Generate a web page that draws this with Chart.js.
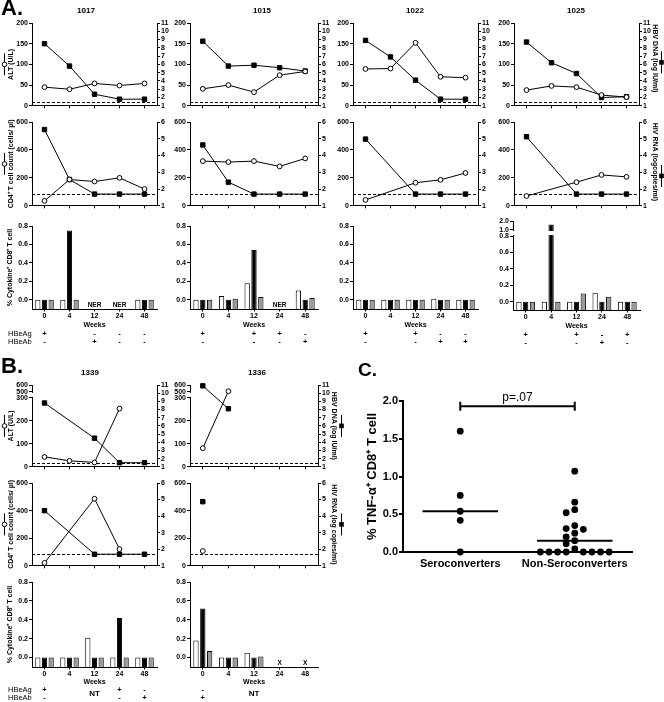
<!DOCTYPE html>
<html>
<head>
<meta charset="utf-8">
<title>HBV / HIV co-infection panels</title>
<script src="https://cdn.jsdelivr.net/npm/chart.js@4.4.1/dist/chart.umd.min.js"></script>
<style>
  html, body { margin: 0; padding: 0; background: #fff; }
  #page { position: relative; width: 664px; height: 702px; overflow: hidden; font-family: "Liberation Sans", Arial, sans-serif; }
  #page canvas { position: absolute; }
  .txt { position: absolute; white-space: nowrap; line-height: 1; color: #000; transform: translateY(-50%); }
  .mid { transform: translate(-50%, -50%); }
</style>
</head>
<body>
<div id="page"></div>
<script>
// ---- data ----
const weeks = ['0', '4', '12', '24', '48'];

// ALT (U/L, open circles) and HBV DNA (log IU/ml, filled squares)
const alt1017 = [45, 40, 54, 49, 54];
const hbv1017 = [8.5, 5.8, 2.4, 1.8, 1.8];
const alt1015 = [41, 50, 33, 74, 83];
const hbv1015 = [8.8, 5.8, 5.9, 5.6, 5.2];
const alt1022 = [89, 90, 152, 70, 68];
const hbv1022 = [8.9, 6.9, 4.1, 1.8, 1.8];
const alt1025 = [38, 48, 45, 26, 21];
const hbv1025 = [8.7, 6.2, 4.9, 2.0, 2.1];
const alt1339 = [43, 26, 19, 253, null];
const hbv1339 = [8.8, null, 4.5, 1.5, 1.5];
const alt1336 = [81, 510, null, null, null];
const hbv1336 = [10.9, 8.1, null, null, null];

// CD4+ T cell count (cells/µl, open circles) and HIV RNA (log copies/ml, filled squares)
const cd4_1017 = [35, 188, 174, 200, 120];
const hiv1017 = [5.55, 2.57, 1.7, 1.7, 1.7];
const cd4_1015 = [320, 313, 320, 282, 339];
const hiv1015 = [4.63, 2.41, 1.7, 1.7, 1.7];
const cd4_1022 = [42, null, 165, 186, 235];
const hiv1022 = [4.98, null, 1.7, 1.7, 1.7];
const cd4_1025 = [70, null, 169, 221, 207];
const hiv1025 = [5.12, null, 1.7, 1.7, 1.7];
const cd4_1339 = [21, null, 486, 121, null];
const hiv1339 = [4.33, null, 1.7, 1.7, 1.7];
const cd4_1336 = [107, null, null, null, null];
const hiv1336 = [4.87, null, null, null, null];

// % cytokine+ CD8+ T cells: open bars, TNF-a (black bars), grey bars
const open1017 = [0, 0, null, null, 0];
const tnf1017 = [0, 0.75, null, null, 0];
const grey1017 = [0, 0, null, null, 0];
const open1015 = [0, 0.04, 0.18, null, 0.10];
const tnf1015 = [0, 0, 0.54, null, 0];
const grey1015 = [0, 0.01, 0.03, null, 0.02];
const open1022 = [0, 0, 0, 0.01, 0];
const tnf1022 = [0, 0, 0, 0, 0];
const grey1022 = [0, 0, 0, 0, 0];
const open1025 = [0, 0, 0, 0.11, 0];
const tnf1025 = [0, 1.6, 0, 0, 0];
const grey1025 = [0, 0, 0.1, 0.06, 0];
const open1339 = [0, 0, 0.21, 0, 0];
const tnf1339 = [0, 0, 0, 0.42, 0];
const grey1339 = [0, 0, 0, 0, 0];
const open1336 = [0.18, 0, 0.05, null, null];
const tnf1336 = [0.52, 0, 0, null, null];
const grey1336 = [0.07, 0, 0.01, null, null];

const note1017 = ['', '', 'NER', 'NER', ''];
const note1015 = ['', '', '', 'NER', ''];
const note1336 = ['', '', '', 'X', 'X'];

// HBeAg / HBeAb status per week
const hbeag1017 = ['+', '', '-', '-', '-'];
const hbeab1017 = ['-', '', '+', '-', '-'];
const hbeag1015 = ['+', '', '+', '+', '-'];
const hbeab1015 = ['-', '', '-', '-', '+'];
const hbeag1022 = ['+', '', '+', '-', '-'];
const hbeab1022 = ['-', '', '-', '+', '+'];
const hbeag1025 = ['+', '', '+', '-', '+'];
const hbeab1025 = ['-', '', '-', '+', '-'];
const hbeag1339 = ['+', '', '', '+', '-'];
const hbeab1339 = ['-', '', '', '-', '+'];
const hbeag1336 = ['-', '', '', '', ''];
const hbeab1336 = ['+', '', '', '', ''];
const untested1339 = ['', '', 'NT', '', ''];
const untested1336 = ['', '', 'NT', '', ''];

// panel C: % TNF-a+ CD8+ T cells
const groups = ['Seroconverters', 'Non-Seroconverters'];
const tnfSero = [1.6, 0.75, 0.54, 0.42, 0];
const tnfNonSero = [1.07, 0.66, 0.56, 0.52, 0.35, 0.31, 0.30, 0.25, 0.20, 0.15, 0.11, 0.04, 0, 0, 0, 0, 0, 0, 0, 0];
const medians = [0.54, 0.15];
const pText = 'p=.07';

// tick labels
const altTicks = [0, 50, 100, 150, 200];
const altTicksB = [0, 100, 200, 300, 500, 600];
const hbvTicks = [1, 2, 3, 4, 5, 6, 7, 8, 9, 10, 11];
const cd4Ticks = [0, 200, 400, 600];
const hivTicks = [1, 2, 3, 4, 5, 6];
const cytoTicks = [0, 0.2, 0.4, 0.6, 0.8];
const cytoTicksTall = [0, 0.2, 0.4, 0.6, 0.8, 1.0, 2.0];
const tnfTicks = [0, 0.5, 1.0, 1.5, 2.0];

// ---- setup ----
const FONT = '"Liberation Sans", Arial, sans-serif';
Chart.defaults.font.family = FONT;
Chart.defaults.color = '#000';

// linear scale with piecewise segments (axis breaks)
class BrokenScale extends Chart.LinearScale {
  static id = 'broken';
  getPixelForValue(value) {
    if (value === null || value === undefined) return NaN;
    const vs = this.options.breakValues, fs = this.options.breakFracs;
    let i = 1;
    while (i < vs.length - 1 && value > vs[i]) i++;
    const f = fs[i - 1] + (value - vs[i - 1]) / (vs[i] - vs[i - 1]) * (fs[i] - fs[i - 1]);
    return this.getPixelForDecimal(f);
  }
}
Chart.register(BrokenScale);

const page = document.getElementById('page');

function addText(txt, x, y, font, center) {
  const d = document.createElement('div');
  d.className = center ? 'txt mid' : 'txt';
  d.textContent = txt;
  d.style.left = x + 'px';
  d.style.top = y + 'px';
  d.style.font = font;
  page.appendChild(d);
}

function makeCanvas(area, pad) {
  const c = document.createElement('canvas');
  const w = area.r - area.l + pad.l + pad.r;
  const h = area.b - area.t + pad.t + pad.b;
  c.width = w; c.height = h;
  c.style.width = w + 'px'; c.style.height = h + 'px';
  c.style.left = (area.l - pad.l) + 'px';
  c.style.top = (area.t - pad.t) + 'px';
  page.appendChild(c);
  return c;
}

function xScale(height, showLabels) {
  return {
    type: 'category', offset: true,
    afterFit: sc => { sc.height = height; },
    grid: {offset: false, drawOnChartArea: false, drawTicks: true, tickLength: 2.5, color: '#000', lineWidth: 1},
    border: {display: true, color: '#000', width: 1},
    ticks: {display: showLabels, autoSkip: false, maxRotation: 0, padding: 0, color: '#000', font: {size: 7, weight: 'bold'}}
  };
}

function yScale(position, width, ax) {
  const s = {
    type: ax.brk ? 'broken' : 'linear', position, min: ax.min, max: ax.max,
    afterBuildTicks: sc => { sc.ticks = ax.ticks.map(v => ({value: v})); },
    afterFit: sc => { sc.width = width; },
    grid: {drawOnChartArea: false, drawTicks: true, tickLength: 3, color: '#000', lineWidth: 1},
    border: {display: true, color: '#000', width: 1},
    ticks: {padding: 1, autoSkip: false, color: '#000', font: {size: 7, weight: 'bold'},
            callback: v => ax.digits ? v.toFixed(ax.digits) : String(v)}
  };
  if (ax.brk) { s.breakValues = ax.brk.v; s.breakFracs = ax.brk.f; }
  return s;
}

function axisTitle(ctx, t, a, ox, side) {
  const cy = (a.top + a.bottom) / 2;
  ctx.save();
  ctx.translate(t.x - ox, cy + (t.dy || 0));
  ctx.rotate(side === 'left' ? -Math.PI / 2 : Math.PI / 2);
  ctx.font = t.font || ('bold 7px ' + FONT);
  ctx.fillStyle = '#000';
  ctx.textAlign = 'center';
  ctx.textBaseline = 'middle';
  ctx.fillText(t.text, 0, 0);
  ctx.restore();
  if (!t.symbol) return;
  const sx = t.sx - ox + 0.5, sy = cy + (t.sdy || 0);
  ctx.save();
  ctx.strokeStyle = '#000'; ctx.lineWidth = 1;
  ctx.beginPath(); ctx.moveTo(sx, sy - 11); ctx.lineTo(sx, sy + 11); ctx.stroke();
  if (t.symbol === 'circle') {
    ctx.beginPath(); ctx.arc(sx, sy, 2.3, 0, Math.PI * 2);
    ctx.fillStyle = '#fff'; ctx.fill(); ctx.stroke();
  } else {
    ctx.fillStyle = '#000'; ctx.fillRect(sx - 2.3, sy - 2.3, 4.6, 4.6);
  }
  ctx.restore();
}

// extra drawing: dashed limit line, axis breaks, titles, notes under the bars
function decor(s) {
  const ox = s.area.l - s.pad.l;
  return {
    id: 'decor',
    beforeDatasetsDraw(chart) {
      if (!s.dash) return;
      const {ctx, chartArea: a} = chart;
      const y = Math.round(chart.scales[s.dash.axis].getPixelForValue(s.dash.value)) + 0.5;
      ctx.save();
      ctx.strokeStyle = '#000'; ctx.lineWidth = 1; ctx.setLineDash([3, 2]);
      ctx.beginPath(); ctx.moveTo(a.left, y); ctx.lineTo(a.right, y); ctx.stroke();
      ctx.restore();
    },
    afterDatasetsDraw(chart) {
      if (!s.gap) return;
      const {ctx, chartArea: a} = chart;
      const sc = chart.scales[s.gap.axis];
      const y1 = sc.getPixelForValue(s.gap.hi) + 1, y2 = sc.getPixelForValue(s.gap.lo) - 1;
      const x1 = a.left - 2, x2 = s.gap.full ? a.right + 1 : a.left + 2;
      ctx.save(); ctx.fillStyle = '#fff'; ctx.fillRect(x1, y1, x2 - x1, y2 - y1); ctx.restore();
    },
    afterDraw(chart) {
      const {ctx, chartArea: a} = chart;
      if (s.leftTitle) axisTitle(ctx, s.leftTitle, a, ox, 'left');
      if (s.rightTitle) axisTitle(ctx, s.rightTitle, a, ox, 'right');
      ctx.save();
      ctx.fillStyle = '#000'; ctx.textAlign = 'center'; ctx.textBaseline = 'middle';
      if (s.notes) {
        ctx.font = 'bold 6.5px ' + FONT;
        s.notes.forEach((n, i) => { if (n) ctx.fillText(n, chart.scales.x.getPixelForValue(i), a.bottom - 4); });
      }
      if (s.below) {
        const b = s.below, x = chart.scales.x;
        ctx.font = 'bold 7px ' + FONT;
        ctx.fillText('Weeks', (a.left + a.right) / 2, a.bottom + b.weeks);
        ctx.font = 'bold 7.5px ' + FONT;
        weeks.forEach((w, i) => {
          const px = x.getPixelForValue(i);
          if (b.ag[i]) ctx.fillText(b.ag[i], px, a.bottom + b.agY);
          if (b.ab[i]) ctx.fillText(b.ab[i], px, a.bottom + b.abY);
        });
        if (b.nt) {
          ctx.font = 'bold 8px ' + FONT;
          b.nt.forEach((n, i) => { if (n) ctx.fillText(n, x.getPixelForValue(i), a.bottom + b.ntY); });
        }
        if (b.rowLabels) {
          ctx.font = '7.5px ' + FONT; ctx.textAlign = 'left';
          ctx.fillText('HBeAg', 8 - ox, a.bottom + b.agY);
          ctx.fillText('HBeAb', 8 - ox, a.bottom + b.abY);
        }
      }
      if (s.bracket) {
        const b = s.bracket;
        const x1 = chart.scales.x.getPixelForValue(b.from), x2 = chart.scales.x.getPixelForValue(b.to);
        const y = chart.scales.y.getPixelForValue(b.y);
        ctx.strokeStyle = '#000'; ctx.lineWidth = 2;
        ctx.beginPath();
        ctx.moveTo(x1, y); ctx.lineTo(x2, y);
        ctx.moveTo(x1, y - 4.5); ctx.lineTo(x1, y + 4.5);
        ctx.moveTo(x2, y - 4.5); ctx.lineTo(x2, y + 4.5);
        ctx.stroke();
        ctx.font = '12px ' + FONT; ctx.textBaseline = 'alphabetic';
        ctx.fillText(b.label, (x1 + x2) / 2, y - 5);
      }
      ctx.restore();
    }
  };
}

function pointSet(data, axis, style) {
  const filled = style === 'rect';
  return {
    data, yAxisID: axis, borderColor: '#000', borderWidth: 1, pointStyle: style,
    pointRadius: filled ? 3.1 : 2.4, pointBackgroundColor: filled ? '#000' : '#fff',
    pointBorderColor: '#000', pointBorderWidth: 1, spanGaps: true, clip: false, tension: 0, fill: false
  };
}

function lineChart(o) {
  return new Chart(makeCanvas(o.area, o.pad), {
    type: 'line',
    data: {labels: weeks, datasets: [pointSet(o.circles, 'yL', 'circle'), pointSet(o.squares, 'yR', 'rect')]},
    options: {
      responsive: false, animation: false, events: [],
      layout: {padding: {top: o.pad.t, left: 0, right: 0, bottom: 0}},
      plugins: {legend: {display: false}, tooltip: {enabled: false}},
      scales: {x: xScale(o.pad.b, false), yL: yScale('left', o.pad.l, o.left), yR: yScale('right', o.pad.r, o.right)}
    },
    plugins: [decor(o)]
  });
}

function barSet(data, color) {
  return {data, backgroundColor: color, borderColor: '#000', borderWidth: 1, base: -0.1,
          categoryPercentage: 0.8, barPercentage: 0.78};
}

function barChart(o) {
  return new Chart(makeCanvas(o.area, o.pad), {
    type: 'bar',
    data: {labels: weeks, datasets: [barSet(o.open, '#fff'), barSet(o.tnf, '#000'), barSet(o.grey, '#9a9a9a')]},
    options: {
      responsive: false, animation: false, events: [],
      layout: {padding: {top: o.pad.t, left: 0, right: o.pad.r, bottom: 0}},
      plugins: {legend: {display: false}, tooltip: {enabled: false}},
      scales: {x: xScale(o.pad.b, true), y: yScale('left', o.pad.l, o.y)}
    },
    plugins: [decor(o)]
  });
}

// ---- layout ----
const COLS = [{l: 32, r: 157}, {l: 190, r: 318}, {l: 353, r: 478}, {l: 514, r: 639}];
const LEFT_PAD = [32, 30, 30, 30];
const RIGHT_PAD = [22, 22, 22, 25];
const ALT = {min: 0, max: 200, ticks: altTicks};
const ALT_B = {min: 0, max: 600, ticks: altTicksB, brk: {v: [0, 300, 500, 600], f: [0, 0.843, 0.916, 1]}};
const HBV = {min: 1, max: 11, ticks: hbvTicks};
const CD4 = {min: 0, max: 600, ticks: cd4Ticks};
const HIV = {min: 1, max: 6, ticks: hivTicks};
const CYTO = {min: -0.1, max: 0.8, ticks: cytoTicks, digits: 1};
const CYTO_TALL = {min: -0.1, max: 2.0, ticks: cytoTicksTall, digits: 1,
                   brk: {v: [-0.1, 0.8, 1.0, 2.0], f: [0, 0.831, 0.899, 1]}};

const T_ALT = {text: 'ALT (U/L)', x: 11, symbol: 'circle', sx: 4};
const T_CD4 = {text: 'CD4\u207A T cell count (cells/ \u00B5l)', x: 11, symbol: 'circle', sx: 4};
const T_CYTO = {text: '% Cytokine\u207A CD8\u207A T cell', x: 10};

const BELOW_A = {weeks: 16, agY: 24.5, abY: 33};
const BELOW_B = {weeks: 15, agY: 22.5, abY: 31, ntY: 27};

const panelA = [
  {alt: alt1017, hbv: hbv1017, cd4: cd4_1017, hiv: hiv1017, open: open1017, tnf: tnf1017, grey: grey1017, notes: note1017, ag: hbeag1017, ab: hbeab1017},
  {alt: alt1015, hbv: hbv1015, cd4: cd4_1015, hiv: hiv1015, open: open1015, tnf: tnf1015, grey: grey1015, notes: note1015, ag: hbeag1015, ab: hbeab1015},
  {alt: alt1022, hbv: hbv1022, cd4: cd4_1022, hiv: hiv1022, open: open1022, tnf: tnf1022, grey: grey1022, notes: null, ag: hbeag1022, ab: hbeab1022},
  {alt: alt1025, hbv: hbv1025, cd4: cd4_1025, hiv: hiv1025, open: open1025, tnf: tnf1025, grey: grey1025, notes: null, ag: hbeag1025, ab: hbeab1025}
];

panelA.forEach((p, c) => {
  const col = COLS[c];
  const last = c === 3;
  lineChart({
    area: {l: col.l, r: col.r, t: 23, b: 107}, pad: {l: LEFT_PAD[c], r: RIGHT_PAD[c], t: 8, b: 4},
    circles: p.alt, squares: p.hbv, left: ALT, right: HBV, dash: {axis: 'yR', value: 1.5},
    leftTitle: c === 0 ? T_ALT : null,
    rightTitle: last ? {text: 'HBV DNA (log IU/ml)', x: 655, dy: -6, symbol: 'rect', sx: 661, sdy: -2} : null
  });
  lineChart({
    area: {l: col.l, r: col.r, t: 122, b: 207}, pad: {l: LEFT_PAD[c], r: RIGHT_PAD[c], t: 8, b: 4},
    circles: p.cd4, squares: p.hiv, left: CD4, right: HIV, dash: {axis: 'yR', value: 1.7},
    leftTitle: c === 0 ? T_CD4 : null,
    rightTitle: last ? {text: 'HIV RNA (logcopies/ml)', x: 655, dy: -2, symbol: 'rect', sx: 661, sdy: 12} : null
  });
  barChart({
    area: last ? {l: 513, r: 640, t: 221, b: 310} : {l: col.l, r: col.r, t: 226, b: 309},
    pad: {l: c === 0 ? 31 : 30, r: 4, t: 8, b: 38},
    open: p.open, tnf: p.tnf, grey: p.grey, notes: p.notes,
    y: last ? CYTO_TALL : CYTO,
    gap: last ? {axis: 'y', lo: 0.8, hi: 1.0, full: true} : null,
    leftTitle: c === 0 ? T_CYTO : null,
    below: Object.assign({ag: p.ag, ab: p.ab, rowLabels: c === 0}, BELOW_A)
  });
});

// panel B
lineChart({
  area: {l: 32, r: 157, t: 385, b: 468}, pad: {l: 32, r: 22, t: 8, b: 4},
  circles: alt1339, squares: hbv1339, left: ALT_B, right: HBV, dash: {axis: 'yR', value: 1.5},
  gap: {axis: 'yL', lo: 300, hi: 500}, leftTitle: T_ALT
});
lineChart({
  area: {l: 190, r: 318, t: 385, b: 468}, pad: {l: 30, r: 28, t: 8, b: 4},
  circles: alt1336, squares: hbv1336, left: ALT_B, right: HBV, dash: {axis: 'yR', value: 1.5},
  gap: {axis: 'yL', lo: 300, hi: 500},
  rightTitle: {text: 'HBV DNA (log IU/ml)', x: 334, symbol: 'rect', sx: 341}
});
lineChart({
  area: {l: 32, r: 157, t: 483, b: 567}, pad: {l: 32, r: 22, t: 8, b: 4},
  circles: cd4_1339, squares: hiv1339, left: CD4, right: HIV, dash: {axis: 'yR', value: 1.7},
  leftTitle: T_CD4
});
lineChart({
  area: {l: 190, r: 318, t: 483, b: 567}, pad: {l: 30, r: 28, t: 8, b: 4},
  circles: cd4_1336, squares: hiv1336, left: CD4, right: HIV, dash: {axis: 'yR', value: 1.7},
  rightTitle: {text: 'HIV RNA (log copies/ml)', x: 334, symbol: 'rect', sx: 341}
});
barChart({
  area: {l: 32, r: 157, t: 582, b: 667}, pad: {l: 32, r: 4, t: 8, b: 35},
  open: open1339, tnf: tnf1339, grey: grey1339, y: CYTO, leftTitle: T_CYTO,
  below: Object.assign({ag: hbeag1339, ab: hbeab1339, nt: untested1339, rowLabels: true}, BELOW_B)
});
barChart({
  area: {l: 190, r: 318, t: 582, b: 667}, pad: {l: 30, r: 4, t: 8, b: 35},
  open: open1336, tnf: tnf1336, grey: grey1336, y: CYTO, notes: note1336,
  below: Object.assign({ag: hbeag1336, ab: hbeab1336, nt: untested1336, rowLabels: false}, BELOW_B)
});

// panel C: column scatter with medians
const SWARM_X = 0.075, SWARM_Y = 0.09, MED_HALF = 0.33;
function swarm(values, center) {
  const placed = [];
  return values.slice().sort((a, b) => b - a).map(v => {
    let slot = 0;
    for (let n = 0; ; n++) {
      const s = n === 0 ? 0 : (n % 2 ? -Math.ceil(n / 2) : n / 2);
      if (!placed.some(p => p.slot === s && Math.abs(p.v - v) < SWARM_Y)) { slot = s; break; }
    }
    placed.push({v, slot});
    return {x: center + slot * SWARM_X, y: v};
  });
}
const dotStyle = {pointRadius: 3.4, pointBackgroundColor: '#000', pointBorderColor: '#000', pointBorderWidth: 0, clip: false};
const medianLine = (c, m) => ({type: 'line', data: [{x: c - MED_HALF, y: m}, {x: c + MED_HALF, y: m}],
  borderColor: '#000', borderWidth: 2, pointRadius: 0, showLine: true, clip: false});

const areaC = {l: 403, r: 632, t: 401, b: 552}, padC = {l: 43, r: 32, t: 41, b: 150};
new Chart(makeCanvas(areaC, padC), {
  type: 'scatter',
  data: {datasets: [
    Object.assign({data: swarm(tnfSero, 1)}, dotStyle),
    Object.assign({data: swarm(tnfNonSero, 2)}, dotStyle),
    medianLine(1, medians[0]),
    medianLine(2, medians[1])
  ]},
  options: {
    responsive: false, animation: false, events: [],
    layout: {padding: {top: padC.t, left: 0, right: padC.r, bottom: 0}},
    plugins: {legend: {display: false}, tooltip: {enabled: false}},
    scales: {
      x: {
        type: 'linear', min: 0.5, max: 2.5,
        afterBuildTicks: sc => { sc.ticks = groups.map((g, i) => ({value: i + 1})); },
        afterFit: sc => { sc.height = padC.b; },
        grid: {drawOnChartArea: false, drawTicks: false},
        border: {display: true, color: '#000', width: 2},
        ticks: {callback: v => groups[v - 1], padding: 5, maxRotation: 0, autoSkip: false,
                color: '#000', font: {size: 11, weight: 'bold'}}
      },
      y: {
        type: 'linear', min: 0, max: 2,
        afterBuildTicks: sc => { sc.ticks = tnfTicks.map(v => ({value: v})); },
        afterFit: sc => { sc.width = padC.l; },
        grid: {drawOnChartArea: false, drawTicks: true, tickLength: 4, color: '#000', lineWidth: 2},
        border: {display: true, color: '#000', width: 2},
        ticks: {callback: v => v.toFixed(1), padding: 1, autoSkip: false, color: '#000', font: {size: 11, weight: 'bold'}}
      }
    }
  },
  plugins: [decor({
    area: areaC, pad: padC,
    leftTitle: {text: '% TNF-\u03B1\u207A CD8\u207A T cell', x: 372, font: 'bold 13px ' + FONT},
    bracket: {from: 1, to: 2, y: 1.93, label: pText}
  })]
});

// panel letters and patient ids
addText('A.', 1, 8, 'bold 22px ' + FONT, false);
addText('B.', 1, 366, 'bold 22px ' + FONT, false);
addText('C.', 358, 370, 'bold 19px ' + FONT, false);
const ID_FONT = 'bold 8px ' + FONT;
addText('1017', 86, 9.5, ID_FONT, true);
addText('1015', 262, 9.5, ID_FONT, true);
addText('1022', 415, 9.5, ID_FONT, true);
addText('1025', 576, 9.5, ID_FONT, true);
addText('1339', 90, 371.5, ID_FONT, true);
addText('1336', 257, 371.5, ID_FONT, true);
</script>
</body>
</html>
